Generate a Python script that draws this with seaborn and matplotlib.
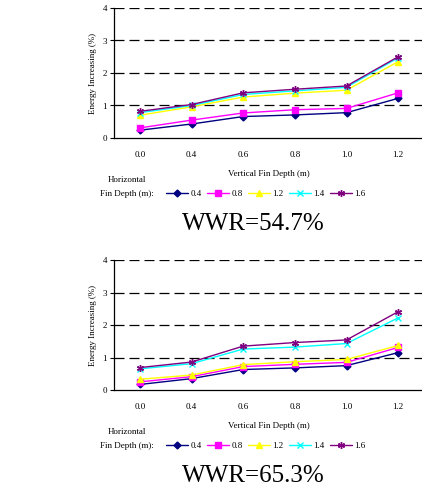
import numpy as np
import pandas as pd
import seaborn as sns
from matplotlib import pyplot as plt
from matplotlib.lines import Line2D

# vertical fin depth categories (x axis)
vertical_depth = ["0.0", "0.4", "0.6", "0.8", "1.0", "1.2"]
# horizontal fin depth series
horizontal_depth = ["0.4", "0.8", "1.2", "1.4", "1.6"]

# WWR = 54.7 %
wwr547_h04 = [0.24, 0.43, 0.66, 0.71, 0.78, 1.22]
wwr547_h08 = [0.31, 0.55, 0.77, 0.87, 0.91, 1.39]
wwr547_h12 = [0.70, 0.96, 1.26, 1.38, 1.47, 2.35]
wwr547_h14 = [0.78, 1.00, 1.34, 1.45, 1.56, 2.47]
wwr547_h16 = [0.82, 1.03, 1.39, 1.50, 1.60, 2.50]

# WWR = 65.3 %
wwr653_h04 = [0.17, 0.35, 0.63, 0.68, 0.75, 1.15]
wwr653_h08 = [0.25, 0.41, 0.72, 0.79, 0.85, 1.31]
wwr653_h12 = [0.33, 0.46, 0.78, 0.87, 0.94, 1.37]
wwr653_h14 = [0.65, 0.81, 1.26, 1.32, 1.43, 2.22]
wwr653_h16 = [0.69, 0.86, 1.35, 1.46, 1.54, 2.41]

panel_titles = ["WWR=54.7%", "WWR=65.3%"]

colors = {"0.4": "#000080", "0.8": "#FF00FF", "1.2": "#FFFF00",
          "1.4": "#00FFFF", "1.6": "#800080"}
markers = {"0.4": "D", "0.8": "s", "1.2": "^", "1.4": "x", "1.6": (6, 2, 0)}
msizes = {"0.4": 3.5, "0.8": 4.5, "1.2": 5, "1.4": 4.5, "1.6": 5}


def to_long(series):
    rows = []
    for h, vals in zip(horizontal_depth, series):
        for i, v in enumerate(vals):
            rows.append({"x": i, "Energy": v, "Horizontal": h})
    return pd.DataFrame(rows)


sns.set_style("white")
plt.rcParams['font.family'] = ['Liberation Serif', 'DejaVu Serif']
plt.rcParams.update({'text.color': 'black', 'axes.labelcolor': 'black',
                     'xtick.color': 'black', 'ytick.color': 'black'})

fig = plt.figure(figsize=(4.22, 4.90), dpi=100)

panels = [
    to_long([wwr547_h04, wwr547_h08, wwr547_h12, wwr547_h14, wwr547_h16]),
    to_long([wwr653_h04, wwr653_h08, wwr653_h12, wwr653_h14, wwr653_h16]),
]
axes_top_px = [8, 260]

for df, title, top_px in zip(panels, panel_titles, axes_top_px):
    W, H = 422, 490
    ax = fig.add_axes([114 / W, 1 - (top_px + 130) / H, 310 / W, 130 / H])
    ax.set_axisbelow(True)

    for h in horizontal_depth:
        sub = df[df["Horizontal"] == h]
        sns.lineplot(data=sub, x="x", y="Energy", color=colors[h], marker=markers[h],
                     markersize=msizes[h], markeredgecolor=colors[h], markeredgewidth=1,
                     linewidth=1, ax=ax, legend=False)

    ax.set_xlim(-0.5, len(vertical_depth) - 0.5)
    ax.set_ylim(0, 4)
    ax.set_yticks(range(0, 5))
    ax.set_xticks(range(len(vertical_depth)))
    ax.set_xticklabels(vertical_depth)
    ax.set_xticks(np.arange(-0.5, len(vertical_depth)), minor=True)
    ax.tick_params(axis='x', which='major', length=0, pad=9, labelsize=6.5)
    ax.tick_params(axis='x', which='minor', length=3, width=0.8, direction='out', color='black')
    ax.tick_params(axis='y', length=3, width=0.8, direction='out', color='black', pad=2, labelsize=6.5, left=True)
    for yv in range(1, 5):
        ax.axhline(yv, color='black', linewidth=0.9, linestyle=(0, (8, 4)), zorder=0)
    sns.despine(ax=ax)
    for s in ["left", "bottom"]:
        ax.spines[s].set_color('black')
        ax.spines[s].set_linewidth(0.9)
    ax.set_xlabel("Vertical Fin Depth (m)", fontsize=6.5, labelpad=8)
    ax.set_ylabel("Energy Increasing (%)", fontsize=6.5, labelpad=4)

    # legend row
    leg_y = 1 - (top_px + 186) / H
    fig.text(127 / W, 1 - (top_px + 172) / H, "Horizontal", fontsize=6.5, ha='center', va='center')
    fig.text(127 / W, leg_y, "Fin Depth (m):", fontsize=6.5, ha='center', va='center')
    handles = [Line2D([], [], color=colors[h], marker=markers[h], markersize=msizes[h],
                      markeredgecolor=colors[h], linewidth=1) for h in horizontal_depth]
    fig.legend(handles, horizontal_depth, loc='center left', bbox_to_anchor=(166 / W, leg_y),
               ncol=5, frameon=False, fontsize=6.5, handlelength=2.4, handletextpad=0.3,
               columnspacing=0.6, borderaxespad=0, borderpad=0)

    fig.text(253 / W, 1 - (top_px + 216) / H, title, fontsize=18, ha='center', va='center')

fig.savefig("out.png", dpi=100)
